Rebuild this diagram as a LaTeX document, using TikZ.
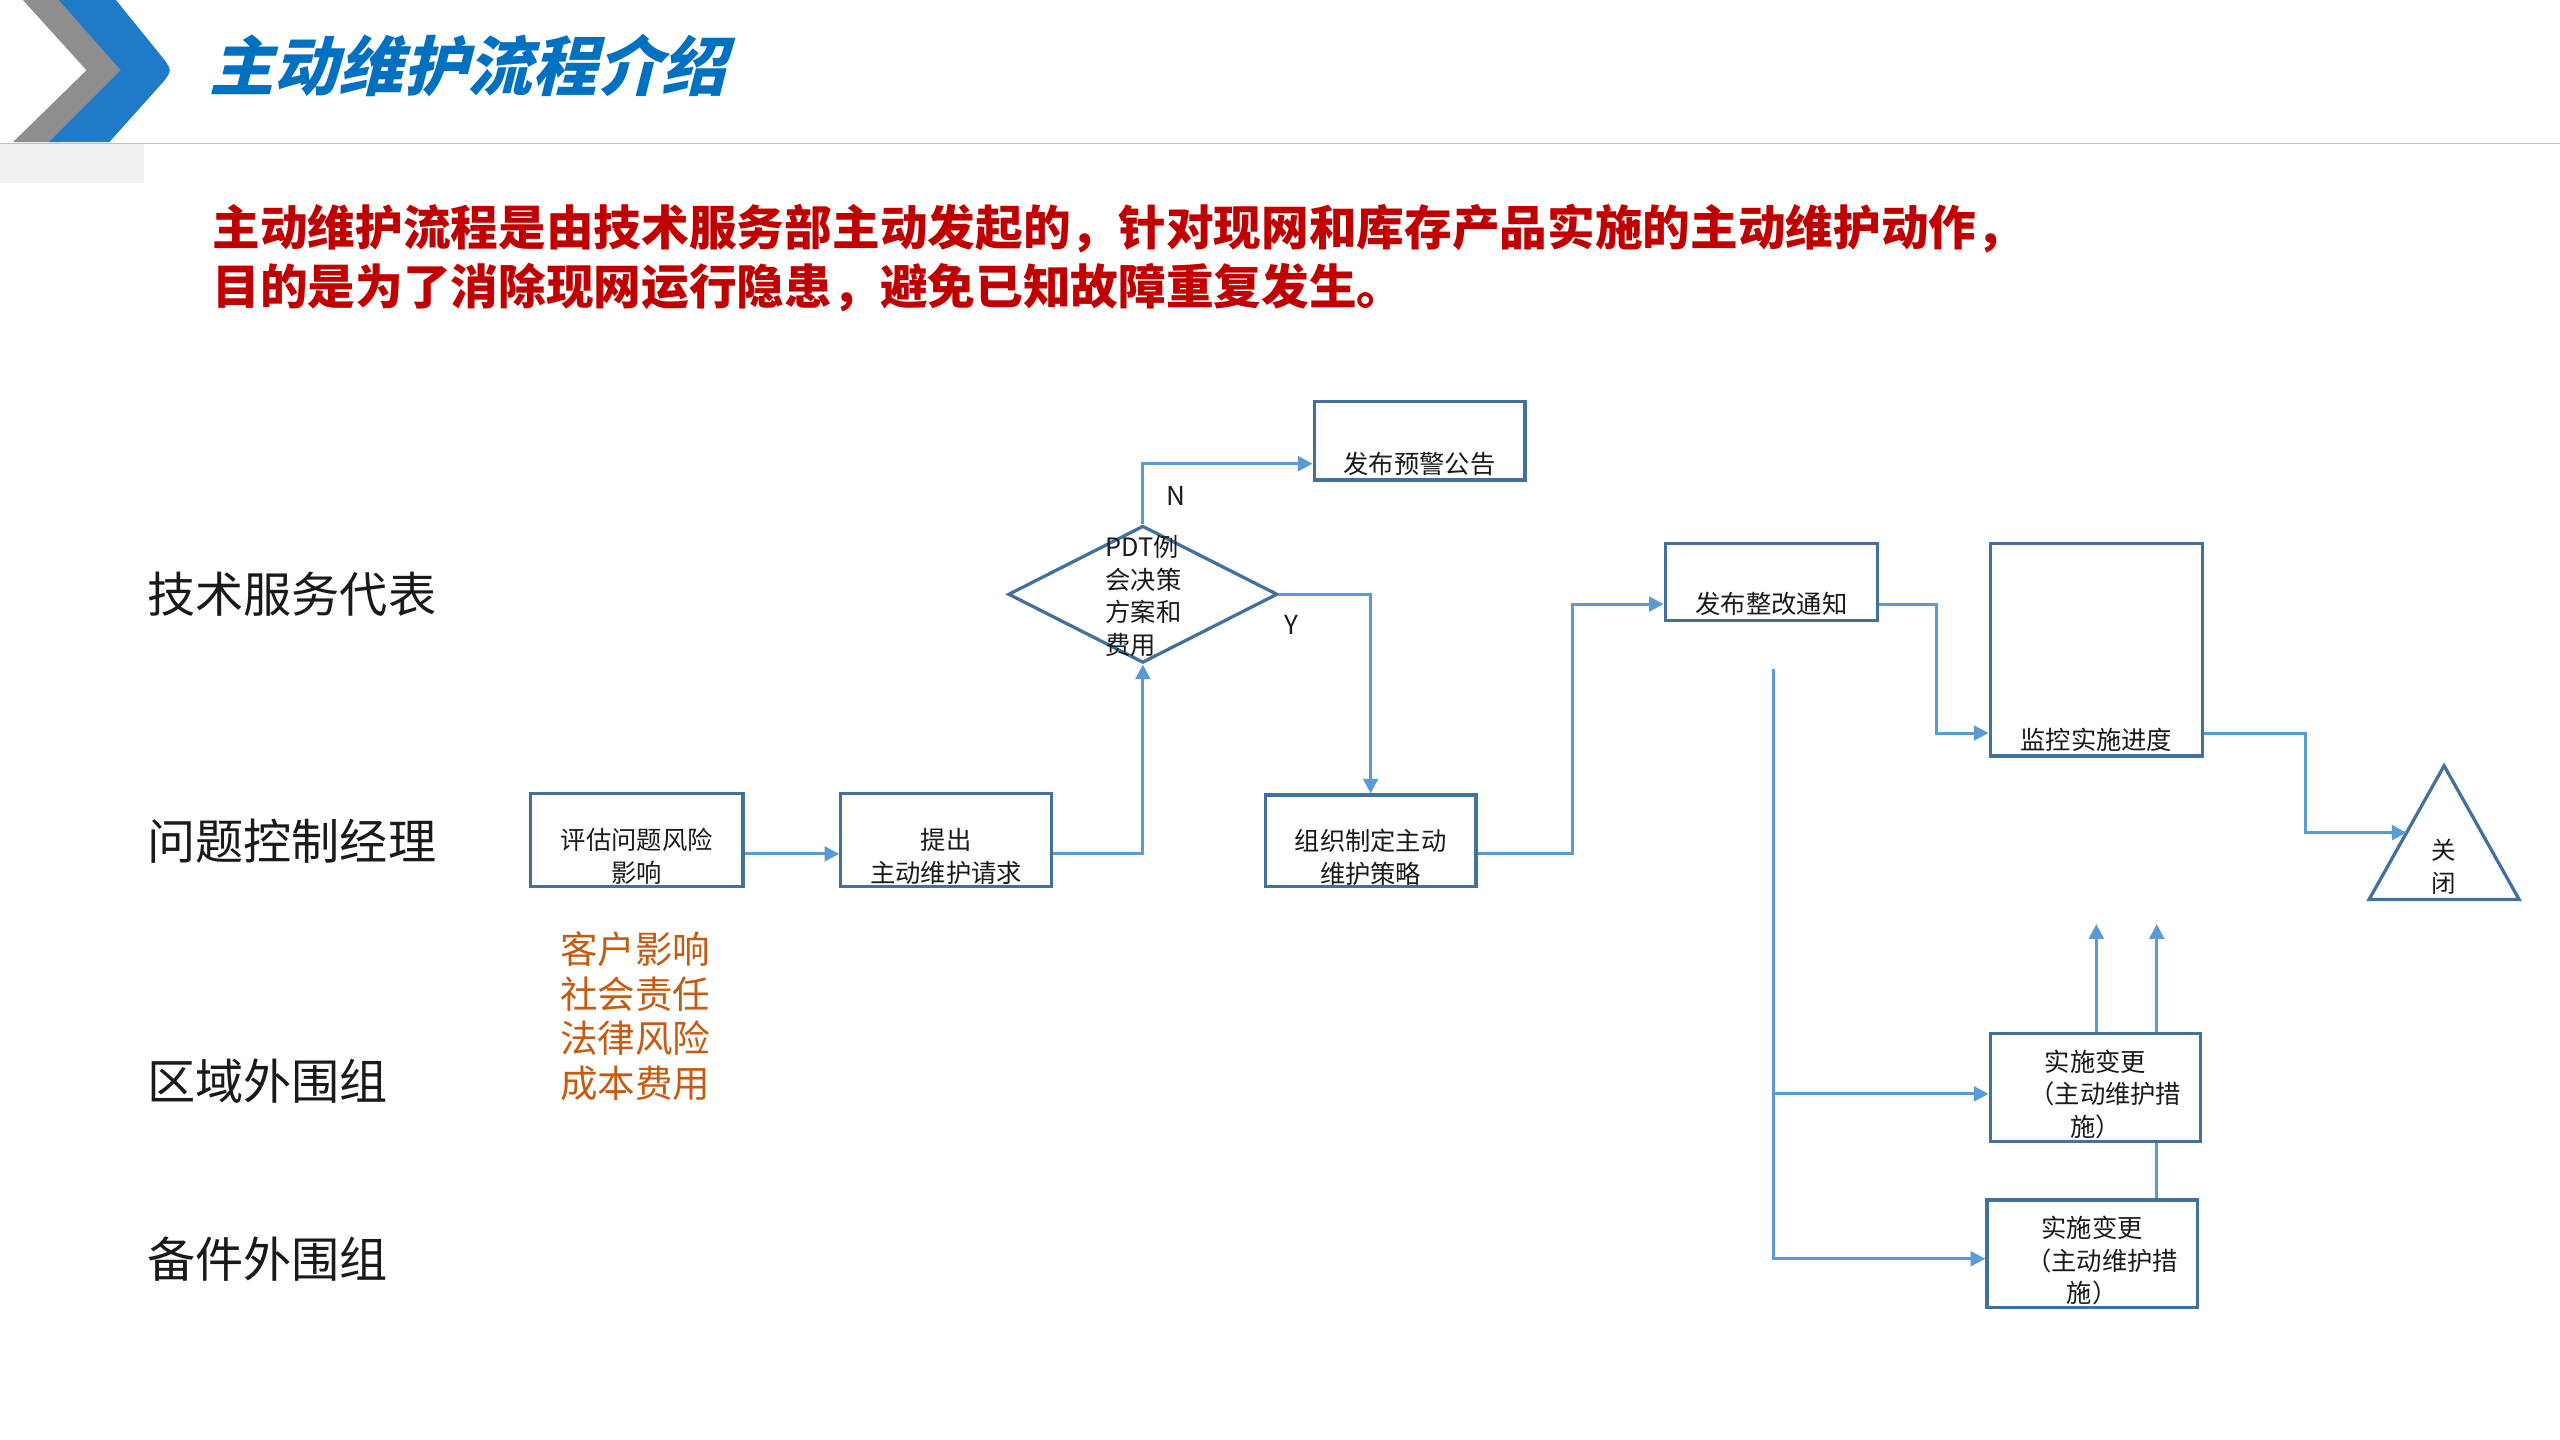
\documentclass[tikz,border=0pt]{standalone}
\usepackage{fontspec}
\setmainfont{Noto Sans CJK SC}
\newfontfamily\titlefont[FakeSlant=0.25]{Noto Sans CJK SC}
\usetikzlibrary{arrows.meta,calc,shapes.geometric}
\definecolor{boxc}{HTML}{41719C}
\definecolor{linec}{HTML}{5B9BD5}
\definecolor{titleblue}{HTML}{0070C0}
\definecolor{chevblue}{HTML}{1F7BC8}
\definecolor{chevgray}{HTML}{8E8E8E}
\definecolor{redtxt}{HTML}{C00000}
\definecolor{orangetxt}{HTML}{C55A11}
\definecolor{txt}{HTML}{1A1A1A}
\tikzset{
  procbox/.style={draw=boxc, line width=2pt, rectangle, inner sep=0pt, align=center, text=txt,
     font=\fontsize{15.5}{20}\selectfont},
  conn/.style={draw=linec, line width=1.8pt, -{Triangle[length=9pt,width=9pt]}},
  plainline/.style={draw=linec, line width=1.8pt},
  lane/.style={anchor=west, inner sep=0pt, text=txt, font=\fontsize{29.5}{32}\selectfont},
  lbl/.style={inner sep=0pt, text=txt, font=\fontsize{16}{18}\selectfont}
}
\begin{document}
\begin{tikzpicture}[x=1pt,y=-1pt]
\useasboundingbox (0,0) rectangle (1568,882);
\fill[white] (0,0) rectangle (1568,882);
% header
\fill[chevgray] (14,0) -- (40,0) -- (80,43) -- (36,87) -- (8,87) -- (53,43) -- cycle;
\fill[chevblue] (36,0) -- (71,0) -- (101,37) .. controls (105,43) .. (101,49) -- (67,87) -- (30,87) -- (74,43) -- cycle;
\fill[gray!12] (0,88) rectangle (88,112);
\draw[gray!50, line width=1pt] (0,88) -- (1568,88);
\node[anchor=west, inner sep=0pt, text=titleblue, font=\titlefont\bfseries\fontsize{39.6}{42}\selectfont] (title) at (128,40) {主动维护流程介绍};
\node[anchor=north west, inner sep=0pt, align=left, text=redtxt, font=\bfseries\fontsize{29.2}{36}\selectfont] (intro) at (130,125)
  {主动维护流程是由技术服务部主动发起的，针对现网和库存产品实施的主动维护动作，\\目的是为了消除现网运行隐患，避免已知故障重复发生。};
% lanes
\node[lane] (l1) at (90,364) {技术服务代表};
\node[lane] (l2) at (90,515) {问题控制经理};
\node[lane] (l3) at (90,662) {区域外围组};
\node[lane] (l4) at (90,771) {备件外围组};
% boxes
\node[procbox, minimum width=130pt, minimum height=57pt, text height=54.5pt, text depth=2.5pt] (pg) at (390,514.5) {评估问题风险\\影响};
\node[procbox, minimum width=129pt, minimum height=57pt, text height=54.5pt, text depth=2.5pt] (tc) at (579.5,514.5) {提出\\主动维护请求};
\node[procbox, minimum width=129pt, minimum height=56pt, text height=54pt, text depth=2pt] (zz) at (839.5,515) {组织制定主动\\维护策略};
\node[procbox, minimum width=129pt, minimum height=48pt, text height=44pt, text depth=4pt] (yj) at (869.5,270) {发布预警公告};
\node[procbox, minimum width=130pt, minimum height=47pt, text height=43pt, text depth=4pt] (zg) at (1085,356.5) {发布整改通知};
\node[procbox, minimum width=130pt, minimum height=130pt, text height=126pt, text depth=4pt] (jk) at (1284,398) {监控实施进度};
\node[procbox, minimum width=129pt, minimum height=66pt, text height=62pt, text depth=2pt] (b1) at (1283.5,666) {实施变更\\\hspace*{12pt}（主动维护措\\施）};
\node[procbox, minimum width=129pt, minimum height=66pt, text height=62pt, text depth=2pt] (b2) at (1281.5,768) {实施变更\\\hspace*{12pt}（主动维护措\\施）};
% decision
\node[draw=boxc, line width=2pt, diamond, aspect=2, minimum width=165pt, minimum height=84pt, inner sep=0pt] (dia) at (700,364) {};
\node[anchor=west, inner sep=0pt, align=left, text=txt, font=\fontsize{15.5}{20}\selectfont] (diatxt) at (677,365) {PDT例\\会决策\\方案和\\费用};
% close triangle
\draw[boxc, line width=2pt, line join=miter] (1497,469) -- (1543,551) -- (1451,551) -- cycle;
\coordinate (close) at (1474,510);
\node[inner sep=0pt, align=center, text=txt, font=\fontsize{15}{20}\selectfont] (closetxt) at (1497,531) {关\\闭};
% labels
\node[lbl] (nlab) at (720,304) {N};
\node[lbl] (ylab) at (791,383) {Y};
% connectors
\draw[conn] ($(pg.east)+(0,8.5)$) -- ($(tc.west)+(0,8.5)$);
\draw[conn] ($(tc.east)+(0,8.5)$) -| (dia.south);
\draw[conn] (dia.north) |- ($(yj.west)+(0,14)$);
\draw[conn] (dia.east) -| (zz.north);
\draw[conn] ($(zz.east)+(0,8)$) -- ++(58,0) |- ($(zg.west)+(0,13.5)$);
\draw[conn] ($(zg.east)+(0,13.5)$) -- ++(35,0) |- ($(jk.west)+(0,51)$);
\draw[conn] ($(jk.east)+(0,51)$) -- ++(62,0) |- (close);
\coordinate (vtop) at (1086,410);
\coordinate (vmid) at (1086,670);
\draw[conn] (vtop) |- ($(b2.west)+(0,3)$);
\draw[conn] (vmid) -- ($(b1.west)+(0,4)$);
\coordinate (u1) at (1284,566);
\coordinate (u2) at (1321,566);
\draw[conn] ($(b1.north)+(0.5,0)$) -- (u1);
\draw[conn] ($(b1.north)+(37.5,0)$) -- (u2);
\draw[plainline] ($(b1.south)+(37.5,0)$) -- ($(b2.north)+(39.5,0)$);
% orange notes
\node[anchor=north west, inner sep=0pt, align=left, text=orangetxt, font=\fontsize{23}{27.3}\selectfont] (notes) at (343,570.5) {客户影响\\社会责任\\法律风险\\成本费用};
\end{tikzpicture}
\end{document}
